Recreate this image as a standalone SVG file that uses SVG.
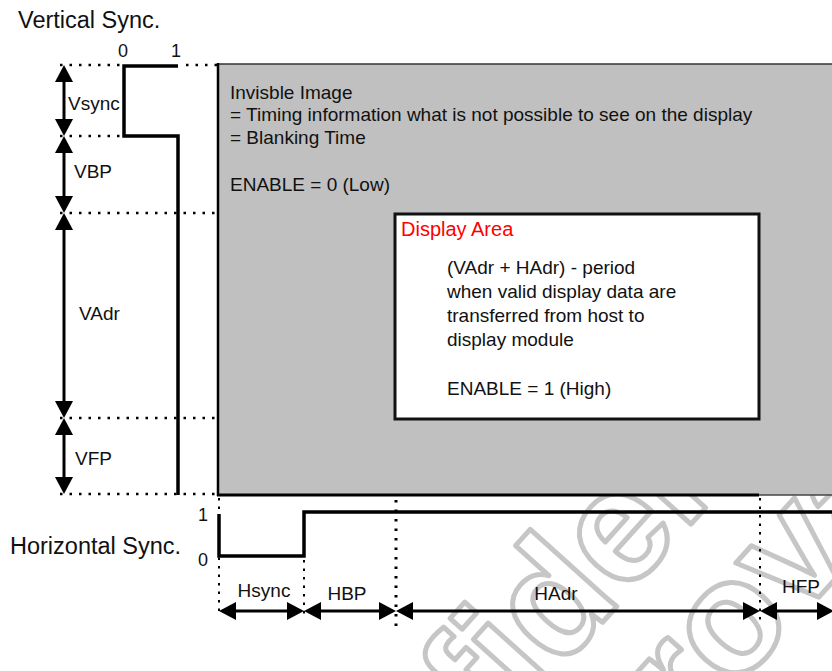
<svg xmlns="http://www.w3.org/2000/svg" width="832" height="671" viewBox="0 0 832 671">
  <defs>
    <style>
      text { font-family: "Liberation Sans", Arial, sans-serif; fill: #111; }
      .title { font-size: 23.5px; }
      .body { font-size: 19px; }
      .lbl { font-size: 19px; }
      .dig { font-size: 18px; }
      .red { font-size: 20px; fill: #ff0000; }
      .wave { fill: none; stroke: #000; stroke-width: 3.5; stroke-linejoin: miter; }
      .dots { fill: none; stroke: #000; stroke-width: 2.5; stroke-dasharray: 2.5 7; }
      .vdots { fill: none; stroke: #000; stroke-width: 2; stroke-dasharray: 2.5 6; }
      .dim { fill: none; stroke: #000; stroke-width: 3; marker-start: url(#tip); marker-end: url(#tip); }
      .wm { font-family: "Liberation Sans", Arial, sans-serif; font-size: 160px; font-weight: bold; fill: none; stroke: #c6c6c6; stroke-width: 5; stroke-linejoin: round; }
    </style>
    <marker id="tip" viewBox="0 0 17 18" refX="11" refY="9" markerWidth="17" markerHeight="18" markerUnits="userSpaceOnUse" orient="auto-start-reverse">
      <path d="M0,0 L17,9 L0,18 Z" fill="#000"/>
    </marker>
  </defs>

  <rect width="832" height="671" fill="#ffffff"/>

  <!-- background watermark -->
  <g id="watermark">
    <text class="wm" transform="translate(285,975) rotate(-48)">Confidential</text>
    <text class="wm" transform="translate(483,970) rotate(-48)">Approval</text>
  </g>

  <!-- blanking region (invisible image) -->
  <g id="blanking">
    <rect x="218" y="64" width="620" height="431" fill="#c0c0c0"/>
    <line x1="218" y1="64" x2="832" y2="64" stroke="#333" stroke-width="1.5"/>
    <line x1="218" y1="63" x2="218" y2="496" stroke="#000" stroke-width="2.5"/>
    <line x1="217" y1="495" x2="759" y2="495" stroke="#000" stroke-width="3"/>
    <line x1="759" y1="495" x2="832" y2="495" stroke="#444" stroke-width="1.5"/>
    <text class="body" x="230" y="99">Invisble Image</text>
    <text class="body" x="230" y="121">= Timing information what is not possible to see on the display</text>
    <text class="body" x="230" y="144">= Blanking Time</text>
    <text class="body" x="230" y="191">ENABLE = 0 (Low)</text>
  </g>

  <!-- active display area -->
  <g id="display-area">
    <rect x="395" y="214" width="364" height="205" fill="#ffffff" stroke="#111" stroke-width="3"/>
    <text class="red" x="401" y="236">Display Area</text>
    <text class="body" x="447" y="274">(VAdr + HAdr) - period</text>
    <text class="body" x="447" y="298">when valid display data are</text>
    <text class="body" x="447" y="322">transferred from host to</text>
    <text class="body" x="447" y="346">display module</text>
    <text class="body" x="447" y="395">ENABLE = 1 (High)</text>
  </g>

  <!-- vertical sync waveform -->
  <g id="vsync">
    <text class="title" x="18" y="28">Vertical Sync.</text>
    <text class="dig" x="118" y="57">0</text>
    <text class="dig" x="171" y="57">1</text>
    <path class="wave" d="M178,66 H124 V136 H178 V495"/>
  </g>

  <!-- horizontal sync waveform -->
  <g id="hsync">
    <text class="title" x="10" y="554">Horizontal Sync.</text>
    <text class="dig" x="198" y="521">1</text>
    <text class="dig" x="198" y="566">0</text>
    <path class="wave" d="M219,514 V556 H304 V512 H834"/>
  </g>

  <!-- timing labels -->
  <g id="labels">
    <text class="lbl" x="68" y="110">Vsync</text>
    <text class="lbl" x="74" y="178">VBP</text>
    <text class="lbl" x="79" y="320">VAdr</text>
    <text class="lbl" x="75" y="465">VFP</text>
    <text class="lbl" x="264" y="597" text-anchor="middle">Hsync</text>
    <text class="lbl" x="347" y="600" text-anchor="middle">HBP</text>
    <text class="lbl" x="556" y="600" text-anchor="middle">HAdr</text>
    <text class="lbl" x="801" y="593" text-anchor="middle">HFP</text>
  </g>

  <!-- guide lines and dimension arrows -->
  <g id="connectors">
    <path class="dots" d="M60,65 H122 M186,65 H217 M60,136 H123 M60,213 H217 M60,418 H217 M60,494 H217"/>
    <line class="vdots" x1="219" y1="498" x2="219" y2="617"/>
    <line class="vdots" x1="304" y1="560" x2="304" y2="617"/>
    <line class="dots" x1="396" y1="500" x2="396" y2="626" style="stroke-width:3"/>
    <line class="vdots" x1="760" y1="498" x2="760" y2="620"/>

    <line class="dim" x1="64" y1="71" x2="64" y2="130"/>
    <line class="dim" x1="64" y1="142" x2="64" y2="207"/>
    <line class="dim" x1="64" y1="219" x2="64" y2="412"/>
    <line class="dim" x1="64" y1="424" x2="64" y2="488"/>

    <line class="dim" x1="225" y1="611" x2="298" y2="611"/>
    <line class="dim" x1="310" y1="611" x2="390" y2="611"/>
    <line class="dim" x1="402" y1="611" x2="754" y2="611"/>
    <line class="dim" x1="766" y1="611" x2="828" y2="611"/>
  </g>
</svg>
